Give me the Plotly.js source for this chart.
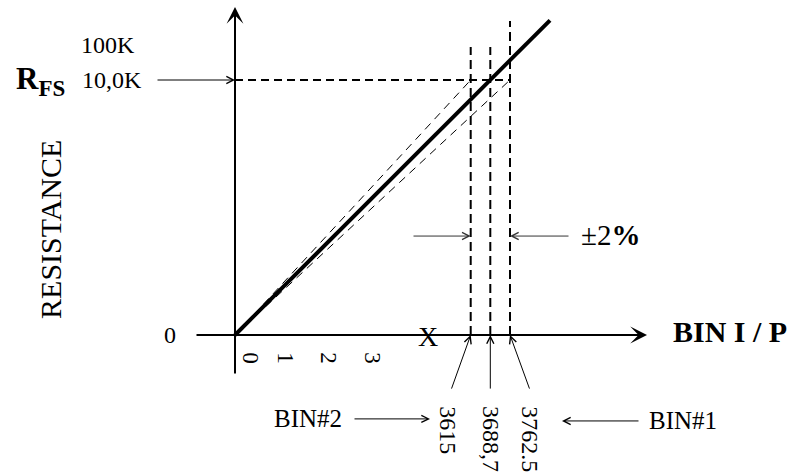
<!DOCTYPE html>
<html>
<head>
<meta charset="utf-8">
<script src="https://cdn.plot.ly/plotly-3.0.1.min.js"></script>
<style>html,body{margin:0;padding:0;background:#fff;}#chart{width:801px;height:475px;}</style>
</head>
<body>
<div id="chart"></div>
<script>
// ---- Data (schematic, not to scale) ----
const binValues = [3615, 3688.7, 3762.5];          // BIN I/P codes
const binLabels = ['3615', '3688,7', '3762.5'];     // labels as printed
const binPos = [235.7, 255.3, 275];                 // schematic positions along BIN axis
const binTop = [11.29, 11.29, 12.31];               // top of dashed guides (K)
const binNames = ['BIN#2', 'BIN#1'];
const rfsLevel = 10;                                // R_FS = 10,0K
const yLabels = ['100K', '10,0K', '0'];
const yLabelVals = [11.37, 10, 0];
const xTickLabels = ['0', '1', '2', '3'];
const xTickPos = [16, 51, 94, 138];
const idealX = [0, 315];
const idealY = [0, 12.34];
const yAxisExtent = [-1.57, 12.86];
const xAxisExtent = [-40, 412];
const tolLabel = '\u00B12<b>%</b>';

const FONT = 'Liberation Serif, Times New Roman, serif';
const BLACK = '#000';

const traces = [];
// thin dashed tolerance lines from origin to ±2% points
[0, 2].forEach(i => traces.push({
  x: [0, binPos[i]], y: [0, rfsLevel], mode: 'lines',
  line: {color: BLACK, width: 1, dash: '8px,6px'}, hoverinfo: 'skip'
}));
// vertical dashed guides
binPos.forEach((p, i) => traces.push({
  x: [p, p], y: [0, binTop[i]], mode: 'lines',
  line: {color: BLACK, width: 2, dash: '9px,5px'}, hoverinfo: 'skip'
}));
// horizontal dashed R_FS level
traces.push({
  x: [0, binPos[2]], y: [rfsLevel, rfsLevel], mode: 'lines',
  line: {color: BLACK, width: 2, dash: '8px,5px'}, hoverinfo: 'skip'
});
// ideal transfer line
traces.push({
  x: idealX, y: idealY, mode: 'lines',
  line: {color: BLACK, width: 4}, hoverinfo: 'skip'
});

const ann = [];
function arrow(tx, ty, hx, hy, w, head, size, color) {
  ann.push({x: hx, y: hy, ax: tx, ay: ty, xref: 'x', yref: 'y', axref: 'x', ayref: 'y',
    text: '', showarrow: true, arrowhead: head, arrowsize: size, arrowwidth: w,
    arrowcolor: color || BLACK, standoff: 0, startstandoff: 0});
}
function label(text, x, y, size, opts) {
  ann.push(Object.assign({x: x, y: y, xref: 'x', yref: 'y', text: text, showarrow: false,
    font: {family: FONT, size: size, color: BLACK}}, opts || {}));
}
// axes
arrow(0, yAxisExtent[0], 0, yAxisExtent[1], 2, 3, 1.4);
arrow(xAxisExtent[0], 0, xAxisExtent[1], 0, 2, 3, 1.4);
// R_FS pointer
arrow(-79, rfsLevel, 0, rfsLevel, 1, 5, 1.4);
// ±2% pointers
arrow(177, 3.88, binPos[0], 3.88, 1, 5, 1.4, '#333');
arrow(335, 3.88, binPos[2], 3.88, 1, 5, 1.4, '#333');
// bin value pointers
arrow(216, -2.16, binPos[0], 0, 1, 5, 1.4);
arrow(binPos[1], -2.16, binPos[1], 0, 1, 5, 1.4);
arrow(295, -2.16, binPos[2], 0, 1, 5, 1.4);
// BIN#2 / BIN#1 pointers
arrow(118, -3.29, 195, -3.29, 1, 5, 1.4);
arrow(405, -3.37, 327, -3.37, 1, 5, 1.4);

// y labels
label(yLabels[0], -127, yLabelVals[0], 24);
label(yLabels[1], -123, yLabelVals[1], 24);
label(yLabels[2], -65, yLabelVals[2], 24);
label('<b>R<sub><span style="font-size:23px">FS</span></sub></b>', -221, 9.95, 31, {xanchor: 'left'});
label('RESISTANCE', -184, 4.12, 30, {textangle: -90});
// x tick labels
xTickLabels.forEach((t, i) => label(t, xTickPos[i], -0.6, 23, {textangle: 90, yanchor: 'top'}));
label('X', 193, -0.05, 28);
label('<b>BIN I / P</b>', 495, 0.12, 30);
label(tolLabel, 344, 3.92, 29, {xanchor: 'left'});
// bin values
binLabels.forEach((t, i) => label(t, [213, binPos[1], 295][i], -2.72, 24, {textangle: 90, yanchor: 'top'}));
label(binNames[0], 73, -3.29, 25);
label(binNames[1], 448, -3.37, 25);

const layout = {
  width: 801, height: 475,
  margin: {l: 0, r: 0, t: 0, b: 0, pad: 0},
  paper_bgcolor: '#fff', plot_bgcolor: '#fff',
  showlegend: false,
  xaxis: {range: [-235, 566], visible: false, fixedrange: true},
  yaxis: {range: [-140 / 25.5, 335 / 25.5], visible: false, fixedrange: true},
  annotations: ann
};
Plotly.newPlot('chart', traces, layout, {staticPlot: true});
</script>
</body>
</html>
